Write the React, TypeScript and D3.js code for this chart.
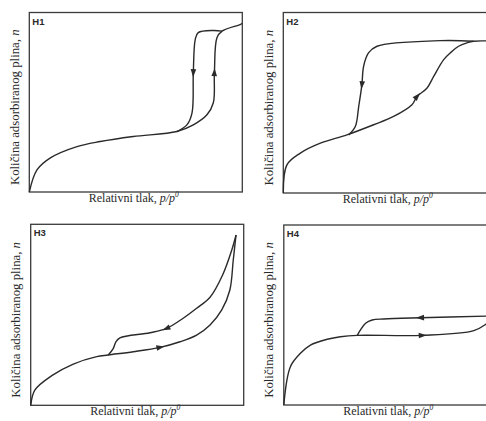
import React from "react";
import * as d3 from "d3";

// Normalised relative pressure p/p0 (x) and amount adsorbed n (y)
const panelNames = ["H1", "H2", "H3", "H4"];

const h1Adsorption: [number, number][] = [
  [0, 0], [0.036, 0.123], [0.099, 0.19], [0.224, 0.253], [0.333, 0.281], [0.488, 0.309],
  [0.693, 0.337], [0.77, 0.374], [0.834, 0.43], [0.864, 0.497], [0.869, 0.665], [0.881, 0.86],
  [0.905, 0.896], [0.99, 0.933], [1.0, 0.94],
];
const h1Desorption: [number, number][] = [
  [0.905, 0.896], [0.864, 0.9], [0.793, 0.888], [0.779, 0.849], [0.77, 0.665], [0.764, 0.441],
  [0.74, 0.374], [0.693, 0.337],
];

const h2Adsorption: [number, number][] = [
  [0, 0], [0.017, 0.156], [0.08, 0.221], [0.174, 0.276], [0.299, 0.322], [0.424, 0.378],
  [0.518, 0.424], [0.604, 0.489], [0.628, 0.535], [0.675, 0.582], [0.706, 0.646], [0.753, 0.739],
  [0.784, 0.776], [0.823, 0.813], [0.862, 0.832], [0.893, 0.841], [1.0, 0.841],
];
const h2Desorption: [number, number][] = [
  [0.893, 0.841], [0.737, 0.844], [0.44, 0.813], [0.4, 0.776], [0.377, 0.702], [0.369, 0.6],
  [0.354, 0.479], [0.338, 0.368], [0.307, 0.322],
];

const h3Adsorption: [number, number][] = [
  [0, 0], [0.02, 0.085], [0.099, 0.164], [0.2, 0.228], [0.31, 0.269], [0.364, 0.278],
  [0.482, 0.296], [0.607, 0.32], [0.701, 0.351], [0.779, 0.388], [0.842, 0.444], [0.897, 0.527],
  [0.935, 0.637], [0.951, 0.803], [0.964, 0.941],
];
const h3Desorption: [number, number][] = [
  [0.964, 0.941], [0.944, 0.858], [0.901, 0.72], [0.842, 0.597], [0.779, 0.536], [0.716, 0.481],
  [0.638, 0.425], [0.56, 0.401], [0.419, 0.373], [0.4, 0.351], [0.388, 0.315], [0.364, 0.278],
];

const h4Adsorption: [number, number][] = [
  [0, 0], [0.031, 0.213], [0.078, 0.287], [0.125, 0.333], [0.204, 0.365], [0.266, 0.379],
  [0.345, 0.387], [0.65, 0.387], [0.892, 0.413], [0.955, 0.454], [1.0, 0.497],
];
const h4Desorption: [number, number][] = [
  [1.0, 0.497], [0.955, 0.494], [0.642, 0.485], [0.469, 0.478], [0.415, 0.472], [0.384, 0.454],
  [0.36, 0.417], [0.345, 0.387],
];

const adsorptionSeries = [h1Adsorption, h2Adsorption, h3Adsorption, h4Adsorption];
const desorptionSeries = [h1Desorption, h2Desorption, h3Desorption, h4Desorption];
// index of the data point on each branch where the direction arrow sits
const adsorptionArrowIndex = [10, 8, 7, 7];
const desorptionArrowIndex = [4, 5, 6, 2];

const yAxisLabel = "Količina adsorbiranog plina, ";
const xAxisLabel = "Relativni tlak, ";

// layout of each panel (px)
const frames = [
  { left: 29.3, top: 12.5, width: 213, height: 179.5 },
  { left: 283.3, top: 12.5, width: 213, height: 180.5 },
  { left: 30.7, top: 224.3, width: 213, height: 181 },
  { left: 283.8, top: 225, width: 213, height: 180 },
];

const INK = "#2a2a2a";

function Arrow({ pts, idx, xs, ys }: any) {
  const p = pts[idx];
  const a = pts[Math.max(0, idx - 1)];
  const b = pts[Math.min(pts.length - 1, idx + 1)];
  const cx = xs(p[0]);
  const cy = ys(p[1]);
  const ang = (Math.atan2(ys(b[1]) - ys(a[1]), xs(b[0]) - xs(a[0])) * 180) / Math.PI;
  return (
    <path
      d="M4.5,0 L-3.5,-2.8 L-3.5,2.8 Z"
      transform={`translate(${cx},${cy}) rotate(${ang})`}
      fill={INK}
    />
  );
}

function Panel({ i }: { i: number }) {
  const f = frames[i];
  const xs = d3.scaleLinear().domain([0, 1]).range([f.left, f.left + f.width]);
  const ys = d3.scaleLinear().domain([0, 1]).range([f.top + f.height, f.top]);
  const line = d3
    .line<[number, number]>()
    .x((d) => xs(d[0]))
    .y((d) => ys(d[1]))
    .curve(d3.curveCatmullRom.alpha(0.5));
  const cx = f.left + f.width / 2;
  const cy = f.top + f.height / 2;
  const serif = "'Liberation Serif', 'Times New Roman', serif";
  return (
    <g>
      <rect x={f.left} y={f.top} width={f.width} height={f.height} fill="white" stroke="#3a3a3a" strokeWidth={1.3} />
      <path d={line(adsorptionSeries[i]) || ""} fill="none" stroke={INK} strokeWidth={1.4} strokeLinejoin="round" />
      <path d={line(desorptionSeries[i]) || ""} fill="none" stroke={INK} strokeWidth={1.4} strokeLinejoin="round" />
      <Arrow pts={adsorptionSeries[i]} idx={adsorptionArrowIndex[i]} xs={xs} ys={ys} />
      <Arrow pts={desorptionSeries[i]} idx={desorptionArrowIndex[i]} xs={xs} ys={ys} />
      <text x={f.left + 3} y={f.top + 12} fontFamily="'Liberation Sans', Arial, sans-serif" fontWeight="bold" fontSize={9.5} fill={INK}>
        {panelNames[i]}
      </text>
      <text
        transform={`translate(${f.left - 10.5},${cy + 5}) rotate(-90)`}
        textAnchor="middle"
        fontFamily={serif}
        fontSize={12.8}
        fill={INK}
      >
        {yAxisLabel}
        <tspan fontStyle="italic">n</tspan>
      </text>
      <text x={cx - 2} y={f.top + f.height + 9.5} textAnchor="middle" fontFamily={serif} fontSize={12} fill={INK}>
        {xAxisLabel}
        <tspan fontStyle="italic">p/p</tspan>
        <tspan fontStyle="italic" fontSize={7.5} dy={-4.5}>0</tspan>
      </text>
    </g>
  );
}

export default function App() {
  return (
    <svg
      width={486}
      height={421}
      style={{ position: "absolute", left: 0, top: 0, background: "white" }}
    >
      <rect width={486} height={421} fill="white" />
      {panelNames.map((_, i) => (
        <Panel key={i} i={i} />
      ))}
    </svg>
  );
}
